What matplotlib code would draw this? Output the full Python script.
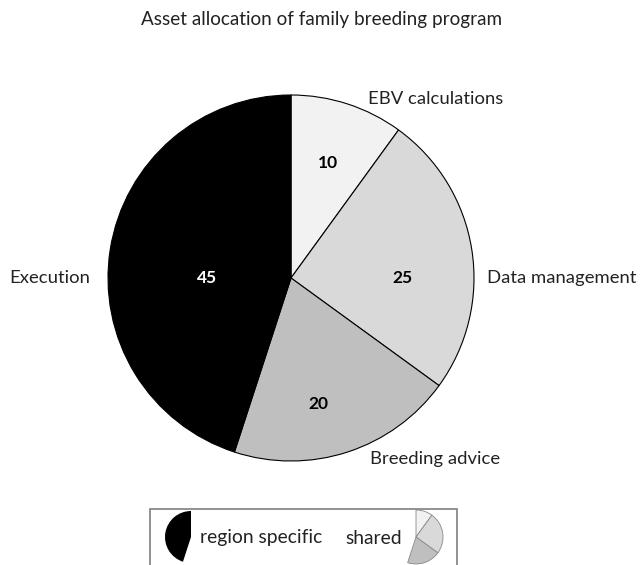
import matplotlib.pyplot as plt
from matplotlib.patches import Rectangle

plt.rcParams['font.family'] = ['Lato', 'DejaVu Sans']

# data
categories = ['EBV calculations', 'Data management', 'Breeding advice', 'Execution']
values = [10, 25, 20, 45]
colors = ['#f2f2f2', '#d9d9d9', '#bfbfbf', '#000000']
shared = [True, True, True, False]

# label layout (pie data coords, radius = 1)
cat_pos = [(0.42, 0.98, 'left'), (1.07, 0.0, 'left'), (0.43, -0.99, 'left'), (-1.10, 0.0, 'right')]
num_pos = [(0.20, 0.63), (0.61, 0.0), (0.15, -0.69), (-0.46, 0.0)]

W, H = 640, 565
fig = plt.figure(figsize=(W / 100, H / 100), dpi=100)

fig.text(322 / W, 1 - 20 / H, 'Asset allocation of family breeding program',
         ha='center', va='center', fontsize=13.6, color='#222222')

# main pie
cx, cy, r = 291, 278, 183
ax = fig.add_axes([(cx - r) / W, 1 - (cy + r) / H, 2 * r / W, 2 * r / H])
ax.pie(values, colors=colors, startangle=90, counterclock=False,
       wedgeprops=dict(edgecolor='black', linewidth=0.8))
ax.set_xlim(-1, 1)
ax.set_ylim(-1, 1)
ax.set_aspect('equal')
ax.axis('off')

for cat, (x, y, ha) in zip(categories, cat_pos):
    ax.text(x, y, cat, ha=ha, va='center', fontsize=13.3, color='#222222', clip_on=False)
for v, c, (x, y) in zip(values, colors, num_pos):
    ax.text(x, y, str(v), ha='center', va='center', fontsize=12.5, fontweight='bold',
            color='white' if c == '#000000' else 'black')

# legend box (cut off at bottom of figure)
fig.patches.append(Rectangle((150 / W, -0.05), 307 / W, 0.05 + (H - 509) / H,
                             transform=fig.transFigure, fill=False,
                             edgecolor='#7f7f7f', linewidth=1.2))


def mini_pie(x0, y0, rad, show):
    a = fig.add_axes([(x0 - rad) / W, 1 - (y0 + rad) / H, 2 * rad / W, 2 * rad / H])
    cols = [c if s else 'none' for c, s in zip(colors, show)]
    edges = ['#888888' if s and c != '#000000' else 'none' for c, s in zip(colors, show)]
    wedges, _ = a.pie(values, colors=cols, startangle=90, counterclock=False,
                      wedgeprops=dict(linewidth=0.6))
    for w, e in zip(wedges, edges):
        w.set_edgecolor(e)
    a.set_xlim(-1, 1)
    a.set_ylim(-1, 1)
    a.set_aspect('equal')
    a.axis('off')


mini_pie(191, 537, 26, [not s for s in shared])
mini_pie(416, 537, 27, shared)

fig.text(200 / W, 1 - 538 / H, 'region specific', ha='left', va='center', fontsize=13.9, color='#222222')
fig.text(345 / W, 1 - 538 / H, 'shared', ha='left', va='center', fontsize=13.9, color='#222222')

fig.savefig('out.png', dpi=100, facecolor='white')
